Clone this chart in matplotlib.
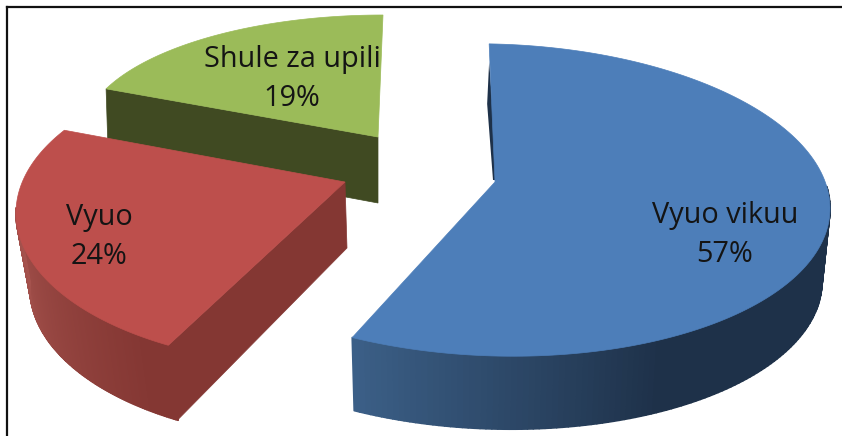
"""
Exploded 3D style pie chart, drawn on a pixel sized axes from the slice shares.
"""

import numpy as np
import matplotlib
matplotlib.use("Agg")
import matplotlib.pyplot as plt
from matplotlib.collections import PolyCollection
from matplotlib.colors import to_rgb
from matplotlib.patches import Polygon

categories = ["Vyuo vikuu", "Vyuo", "Shule za upili"]
shares = [57, 24, 19]

DEPTH = 75


def arc_points(center, radii, angles, tilt=0.0):
    """
    Returns points on the tilted pie rim, angles in degrees clockwise from the top.
    """
    theta = np.radians(angles)
    dx = radii[0] * np.sin(theta)
    return np.column_stack((center[0] + dx,
                            center[1] - radii[1] * np.cos(theta) + tilt * dx))


def draw_slice(ax, share, start, center, radii, apex_offset, top_color, cut_color,
               side_colors=None, side_range=None, shade_from=None, base=None,
               stretch=1.0, cut=True, tilt=0.0):
    """
    Draws one slice: outer band, straight cut face and top surface.
    Returns the rim start point and the apex, for any extra faces.
    """
    sweep = share * 3.6 * stretch
    angles = np.linspace(start, start + sweep, 160)
    rim = arc_points(center, radii, angles, tilt)
    apex = np.array(center) + np.array(apex_offset)

    if side_colors is not None:
        base_center, base_a = base
        band = np.linspace(side_range[0], side_range[1], 120)
        upper = arc_points(center, radii, band, tilt)
        lower = arc_points(base_center, (base_a, radii[1]), band, tilt)
        quads = [[upper[i], upper[i + 1], lower[i + 1], lower[i]] for i in range(len(band) - 1)]
        # Shade runs along the rim, flat up to shade_from and then going lighter
        mix = np.clip((band[:-1] - shade_from) / (side_range[1] - shade_from), 0, 1)[:, None]
        colors = np.array(to_rgb(side_colors[0])) * (1 - mix) + np.array(to_rgb(side_colors[1])) * mix
        ax.add_collection(PolyCollection(quads, facecolors=colors, edgecolors=colors,
                                         linewidths=1.2, zorder=center[0] / 1000))

    if cut:
        # Cut face between the front tip and the apex
        tip = rim[0]
        cut_face = [tip, apex, apex + (2, DEPTH - 9), tip + (9, DEPTH)]
        ax.add_patch(Polygon(cut_face, closed=True, facecolor=cut_color, edgecolor=cut_color,
                             linewidth=0.5, zorder=center[0] / 1000 + 0.005))

    ax.add_patch(Polygon(np.vstack((apex, rim)), closed=True, facecolor=top_color,
                         edgecolor=top_color, linewidth=0.5, zorder=center[0] / 1000 + 0.01))
    return rim, apex


fig = plt.figure(figsize=(8.42, 4.36), dpi=100)
ax = fig.add_axes([0, 0, 1, 1])
ax.set_xlim(0, 842)
ax.set_ylim(436, 0)
ax.axis("off")

# Frame only shows on the top and left
ax.plot([7, 842], [7, 7], color="#111111", linewidth=1.6, zorder=0)
ax.plot([7, 7], [7, 436], color="#111111", linewidth=1.6, zorder=0)

# Green slice, its inner face is visible and goes under the red slice
green_stretch = 0.985
green_start = 360 - shares[2] * 3.6 * green_stretch
green_rim, green_apex = draw_slice(ax, shares[2], green_start, (383, 135), (300, 120), (-5, 2),
                                   "#9BBB59", "#404A22", cut=False, stretch=green_stretch)
green_face = [green_rim[0], green_apex, green_apex + (0, 66), green_rim[0] + (2, 64)]
ax.add_patch(Polygon(green_face, closed=True, facecolor="#404A22", edgecolor="#404A22",
                     linewidth=0.5, zorder=0.2))

# Red slice
draw_slice(ax, shares[1], 209.5, (316, 213), (300, 152), (29, -31), "#BD4F4C", "#843733",
           side_colors=("#843733", "#A5524D"), side_range=(209.5, 272), shade_from=215,
           base=((322, 288), 292), stretch=1.082)

# Blue slice, start edge has a thin dark sliver next to it
blue_start = -1
blue_stretch = 1.005
blue_end = blue_start + shares[0] * 3.6 * blue_stretch
blue_rim, blue_apex = draw_slice(ax, shares[0], blue_start, (495, 200), (335, 156), (0, -18),
                                 "#4D7EB9", "#3A5C85",
                                 side_colors=("#1E3149", "#3C6088"),
                                 side_range=(82, blue_end), shade_from=150,
                                 base=((494, 273), 328), cut=False, stretch=blue_stretch,
                                 tilt=0.025)
sliver = [blue_rim[0] + (0, 18), blue_rim[0] + (-2, 60), blue_apex + (-2, -2), blue_apex + (3, -2)]
ax.add_patch(Polygon(sliver, closed=True, facecolor="#1E3149", edgecolor="none", zorder=0.4))

# Labels
label_spots = [(725, 235), (99, 237), (292, 79)]
for cat, share, spot in zip(categories, shares, label_spots):
    ax.text(spot[0], spot[1], f"{cat}\n{share}%", ha="center", va="center", fontsize=20.8,
            family="Open Sans", color="#141414", linespacing=1.46, zorder=5)

fig.savefig("out.png", dpi=100)
